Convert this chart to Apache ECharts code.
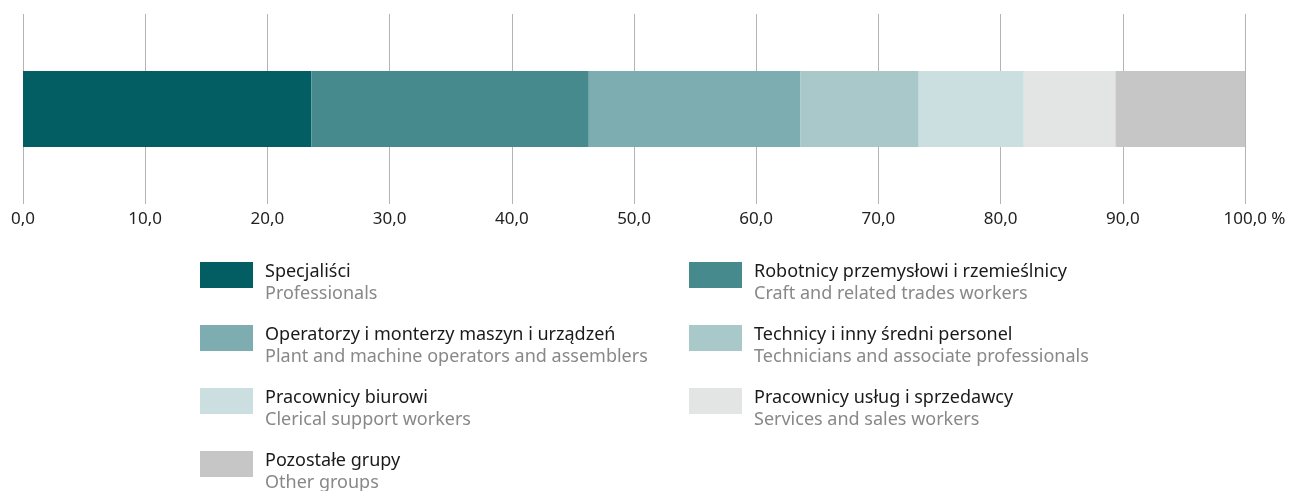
<!DOCTYPE html>
<html><head><meta charset="utf-8">
<script src="https://cdn.jsdelivr.net/npm/echarts@6/dist/echarts.min.js"></script>
<style>html,body{margin:0;padding:0;background:#fff}#c{width:1289px;height:491px}</style>
</head><body><div id="c"></div>
<script>
const namesPL = ['Specjaliści','Robotnicy przemysłowi i rzemieślnicy','Operatorzy i monterzy maszyn i urządzeń','Technicy i inny średni personel','Pracownicy biurowi','Pracownicy usług i sprzedawcy','Pozostałe grupy'];
const namesEN = ['Professionals','Craft and related trades workers','Plant and machine operators and assemblers','Technicians and associate professionals','Clerical support workers','Services and sales workers','Other groups'];
const values = [23.6, 22.7, 17.3, 9.7, 8.6, 7.5, 10.6];
const colors = ['#035e63','#478a8d','#7eadb1','#a9c8c9','#cbdfe1','#e3e5e4','#c6c6c6'];
const tickLabels = ['0,0','10,0','20,0','30,0','40,0','50,0','60,0','70,0','80,0','90,0','100,0 %'];
const FONT = 'Noto Sans';

const series = namesPL.map((n,i)=>({
  name:n, type:'bar', stack:'all', barWidth:76,
  data:[values[i]], itemStyle:{color:colors[i]}, emphasis:{disabled:true}
}));
const enMap = {}; namesPL.forEach((n,i)=>enMap[n]=namesEN[i]);

const legendBase = {
  orient:'vertical', itemWidth:53, itemHeight:26, itemGap:22, selectedMode:false,
  icon:'rect', padding:0, height:300,
  formatter: n => '{a|'+n+'}\n{b|'+enMap[n]+'}',
  textStyle:{
    padding:[16,0,0,7],
    rich:{
      a:{fontFamily:FONT,fontSize:18,color:'#1a1a1a',lineHeight:22},
      b:{fontFamily:FONT,fontSize:18,color:'#888888',lineHeight:22}
    }
  }
};

const option = {
  animation:false,
  grid:{left:23,right:44,top:14,height:190},
  xAxis:{type:'value',min:0,max:100,interval:10,
    axisLine:{show:false},axisTick:{show:false},
    splitLine:{show:true,lineStyle:{color:'#b4b4b4',width:1}},
    axisLabel:{margin:7,fontFamily:FONT,fontSize:17,color:'#222',
      formatter:(v)=>{const s=tickLabels[Math.round(v/10)]; return v===100?'{p|}'+s:s;},
      rich:{p:{width:19}}}
  },
  yAxis:{type:'category',data:[''],axisLine:{show:false},axisTick:{show:false},axisLabel:{show:false}},
  legend:[
    Object.assign({},legendBase,{left:200,top:262,data:[namesPL[0],namesPL[2],namesPL[4],namesPL[6]]}),
    Object.assign({},legendBase,{left:689,top:262,data:[namesPL[1],namesPL[3],namesPL[5]]})
  ],
  series
};
echarts.init(document.getElementById('c')).setOption(option);
</script></body></html>
